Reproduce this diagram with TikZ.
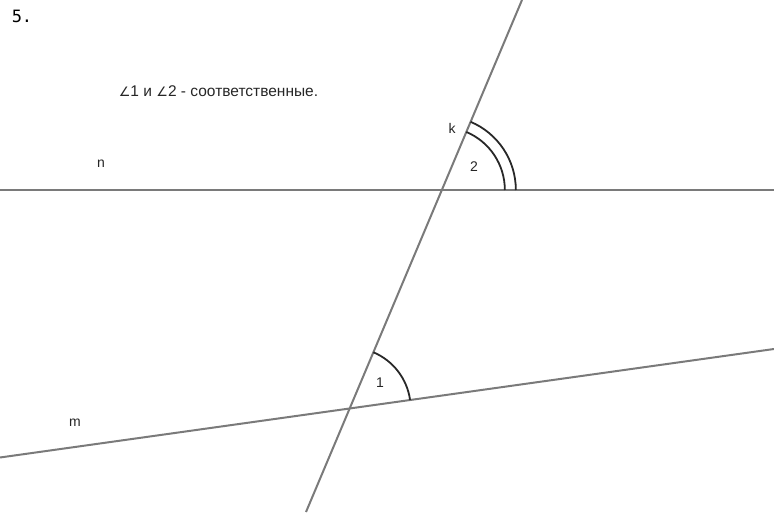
\documentclass[tikz,border=0pt]{standalone}
\usepackage{fontspec}
\setmainfont{Liberation Sans}
\newfontfamily\symfont{DejaVu Sans}
\newfontfamily\monofont{DejaVu Sans Mono}
\usetikzlibrary{calc}
\definecolor{linegray}{RGB}{122,122,122}
\definecolor{arcdark}{RGB}{40,40,40}
\tikzset{
  geoline/.style={draw=linegray, line width=2pt},
  arcline/.style={draw=arcdark, line width=1.8pt},
  lbl/.style={inner sep=0pt, font=\fontsize{14}{16}\selectfont, text=black!85}
}
\begin{document}
\begin{tikzpicture}[x=1pt,y=1pt]
\useasboundingbox (0,0) rectangle (774,512);
% line endpoints
\coordinate (n1) at (0,322);
\coordinate (n2) at (774,322);
\coordinate (k1) at (522,512);
\coordinate (k2) at (306,0);
\coordinate (m1) at (0,54.5);
\coordinate (m2) at (774,163);
\coordinate (A) at (intersection of n1--n2 and k1--k2);
\coordinate (B) at (intersection of m1--m2 and k1--k2);
% lines
\draw[geoline] (n1) -- (n2);
\draw[geoline] (k1) -- (k2);
\draw[geoline] (m1) -- (m2);
% angle arcs
\draw[arcline] ($(A)+(0:63pt)$) arc[start angle=0, end angle=67.13, radius=63pt];
\draw[arcline] ($(A)+(0:74pt)$) arc[start angle=0, end angle=67.13, radius=74pt];
\draw[arcline] ($(B)+(7.98:61pt)$) arc[start angle=7.98, end angle=67.13, radius=61pt];
% labels
\node[lbl] (lk) at (452,384) {k};
\node[lbl] (l2) at (474,345) {2};
\node[lbl] (ln) at (101,348) {n};
\node[lbl] (lm) at (75,89) {m};
\node[lbl] (l1) at (380,129) {1};
\node[inner sep=0pt, font=\monofont\fontsize{17}{19}\selectfont] (num) at (22,496) {5.};
\node[lbl, font=\fontsize{15.5}{18}\selectfont] (txt) at (218.5,421) {{\symfont\fontsize{13}{15}\selectfont ∠}1 и {\symfont\fontsize{13}{15}\selectfont ∠}2 - соответственные.};
\end{tikzpicture}
\end{document}
